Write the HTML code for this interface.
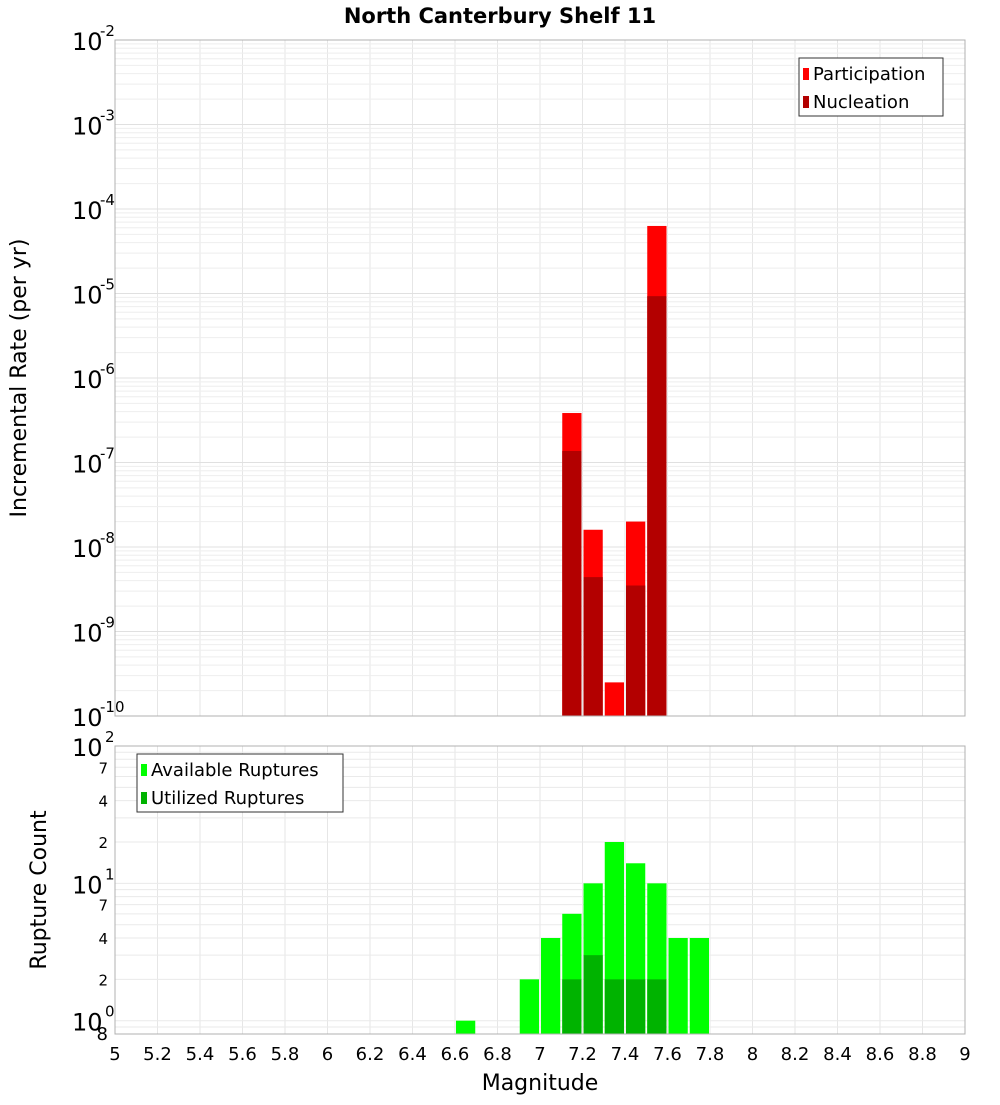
<!DOCTYPE html>
<html><head><meta charset="utf-8"><style>
body{margin:0;background:#fff;}
svg text{font-family:"DejaVu Sans","Liberation Sans",sans-serif;}
</style></head><body>
<svg id="c" width="1000" height="1100" xmlns="http://www.w3.org/2000/svg">
<rect width="1000" height="1100" fill="#fff"/>
<text x="500" y="23" text-anchor="middle" font-size="21" font-weight="bold">North Canterbury Shelf 11</text>
<text transform="translate(26,378) rotate(-90)" text-anchor="middle" font-size="22">Incremental Rate (per yr)</text>
<text transform="translate(46,890) rotate(-90)" text-anchor="middle" font-size="22">Rupture Count</text>
<text x="540" y="1090" text-anchor="middle" font-size="22">Magnitude</text>
<g id="g"></g>
</svg>
<script>
const mags = [6.65, 6.95, 7.05, 7.15, 7.25, 7.35, 7.45, 7.55, 7.65, 7.75];
const rateMags = [7.15, 7.25, 7.35, 7.45, 7.55];
const participation = [3.85e-7, 1.6e-8, 2.5e-10, 2.0e-8, 6.3e-5];
const nucleation = [1.37e-7, 4.4e-9, 0, 3.5e-9, 9.3e-6];
const available = [1, 2, 4, 6, 10, 20, 14, 10, 4, 4];
const utilMags = [7.15, 7.25, 7.35, 7.45, 7.55];
const utilized = [2, 3, 2, 2, 2];
const xTicks = [5,5.2,5.4,5.6,5.8,6,6.2,6.4,6.6,6.8,7,7.2,7.4,7.6,7.8,8,8.2,8.4,8.6,8.8,9];

const NS="http://www.w3.org/2000/svg", g=document.getElementById('g');
function el(t,a,p){const e=document.createElementNS(NS,t);for(const k in a)e.setAttribute(k,a[k]);(p||g).appendChild(e);return e;}
const X0=115,X1=965;
const xs=m=>X0+(m-5)/4*(X1-X0);
const T0=40,T1=716, ty=v=>T1-(Math.log10(v)+10)/8*(T1-T0);
const B0=746,B1=1034, lb0=Math.log10(0.8), by=v=>B1-(Math.log10(v)-lb0)/(2-lb0)*(B1-B0);

// grids
for(const m of xTicks){
  let l=el('line',{x1:xs(m),x2:xs(m),y1:T0,y2:T1,stroke:'#e6e6e6'});
  
  l=el('line',{x1:xs(m),x2:xs(m),y1:B0,y2:B1,stroke:'#e6e6e6'});
  
}
for(let d=-10;d<-2;d++)for(let k=1;k<=9;k++){
  const y=ty(k*Math.pow(10,d));
  const l=el('line',{x1:X0,x2:X1,y1:y,y2:y,stroke:k==1?'#e0e0e0':'#eeeeee'});
  
}
for(let d=-1;d<2;d++)for(let k=1;k<=9;k++){
  const v=k*Math.pow(10,d); if(v<0.8||v>100)continue;
  const y=by(v);
  const l=el('line',{x1:X0,x2:X1,y1:y,y2:y,stroke:'#eaeaea'});
  
}
// top bars
const bw=(X1-X0)/40;
rateMags.forEach((m,i)=>{
  const x=xs(m)-bw/2+1;
  let r=el('rect',{x:x,y:ty(participation[i]),width:bw-2,height:T1-ty(participation[i]),fill:'#ff0000'});
  
  if(nucleation[i]>0){
    r=el('rect',{x:x,y:ty(nucleation[i]),width:bw-2,height:T1-ty(nucleation[i]),fill:'#b30000'});
    
  }
});
mags.forEach((m,i)=>{
  const r=el('rect',{x:xs(m)-bw/2+1,y:by(available[i]),width:bw-2,height:B1-by(available[i]),fill:'#00ff00'});
  
});
utilMags.forEach((m,i)=>{
  const r=el('rect',{x:xs(m)-bw/2+1,y:by(utilized[i]),width:bw-2,height:B1-by(utilized[i]),fill:'#00b300'});
  
});
// frames
let f=el('rect',{x:X0,y:T0,width:X1-X0,height:T1-T0,fill:'none',stroke:'#b0b0b0'});

f=el('rect',{x:X0,y:B0,width:X1-X0,height:B1-B0,fill:'none',stroke:'#b0b0b0'});

// x tick labels
for(const m of xTicks){
  const t=el('text',{x:xs(m),y:1060,'text-anchor':'middle','font-size':18});
  t.textContent=String(m);
  
}
// top y labels
for(let d=-10;d<=-2;d++){
  const y=ty(Math.pow(10,d));
  const t=el('text',{x:72,y:y+10,'font-size':24});
  t.textContent='10';
  
  const s=el('text',{x:100,y:y-4,'font-size':15});
  s.textContent=String(d);
  
}
// bottom y labels
[[1,'0'],[10,'1'],[100,'2']].forEach(([v,e])=>{
  const y=by(v);
  const t=el('text',{x:72,y:y+10,'font-size':24});t.textContent='10';
  
  const s=el('text',{x:105,y:y-4,'font-size':15});s.textContent=e;
  
});
[2,4,7,20,40,70,0.8].forEach(v=>{
  const y=by(v);
  const t=el('text',{x:v<1?108:108,y:y+6,'text-anchor':'end','font-size':v<1?18:15});
  t.textContent=String(v<1?8:String(v)[0]);
  
});
// legends
function legend(x,y,w,items,name){
  const lg=el('g',{});
  el('rect',{x:x,y:y,width:w,height:58,fill:'#fff',stroke:'#333'},lg);
  items.forEach(([c,l],i)=>{
    el('rect',{x:x+4,y:y+10+i*28,width:6,height:12,fill:c},lg);
    const t=el('text',{x:x+14,y:y+22+i*28,'font-size':18},lg);t.textContent=l;
  });
}
legend(799,58,144,[['#ff0000','Participation'],['#b30000','Nucleation']],'top-legend');
legend(137,754,206,[['#00ff00','Available Ruptures'],['#00b300','Utilized Ruptures']],'bottom-legend');
</script>
</body></html>
